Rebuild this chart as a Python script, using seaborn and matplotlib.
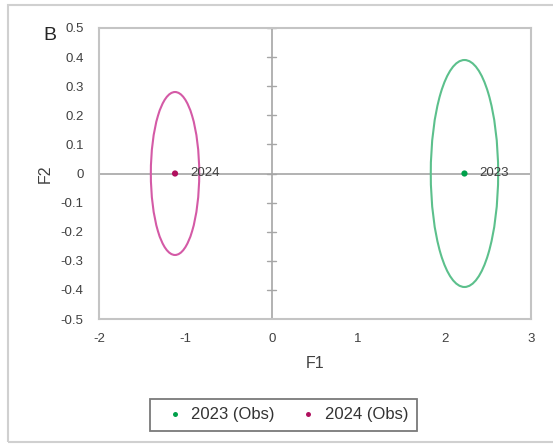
import numpy as np
import pandas as pd
import matplotlib
matplotlib.use("Agg")
import matplotlib.pyplot as plt
from matplotlib.patches import Ellipse, Rectangle
import seaborn as sns

# Data
years = ["2023", "2024"]
series_names = ["2023 (Obs)", "2024 (Obs)"]
f1_values = [2.23, -1.12]
f2_values = [0.0, 0.0]
ellipse_f1_radius = [0.39, 0.28]
ellipse_f2_radius = [0.39, 0.28]
x_ticks = [-2, -1, 0, 1, 2, 3]
y_ticks = [0.5, 0.4, 0.3, 0.2, 0.1, 0, -0.1, -0.2, -0.3, -0.4, -0.5]

point_colors = ["#00a04a", "#b0105e"]
ellipse_colors = ["#5cc08c", "#d45aa6"]

sns.set_theme(style="white")
plt.rcParams["font.family"] = ["Liberation Sans", "DejaVu Sans"]
plt.rcParams["axes.unicode_minus"] = False

fig = plt.figure(figsize=(5.53, 4.46), dpi=100)
ax = fig.add_axes([99 / 553, 1 - 319 / 446, 432 / 553, 291 / 446])

df = pd.DataFrame({"F1": f1_values, "F2": f2_values, "Series": series_names})

# zero lines
ax.axhline(0, color="#a6a6a6", lw=1.2, zorder=1)
ax.axvline(0, color="#a6a6a6", lw=1.2, zorder=1)
# tick marks on the vertical zero axis
for yt in y_ticks:
    ax.plot([-0.05, 0.05], [yt, yt], color="#a6a6a6", lw=1.0, zorder=1)

for i in range(len(years)):
    e = Ellipse((f1_values[i], f2_values[i]), 2 * ellipse_f1_radius[i],
                2 * ellipse_f2_radius[i], fill=False,
                edgecolor=ellipse_colors[i], lw=1.5, zorder=2)
    ax.add_patch(e)

sns.scatterplot(data=df, x="F1", y="F2", hue="Series",
                palette=point_colors, s=20, edgecolor="none", ax=ax, zorder=3,
                legend=True)

for i in range(len(years)):
    ax.annotate(years[i], (f1_values[i], f2_values[i]), xytext=(11, 0),
                textcoords="offset points", va="center", ha="left",
                fontsize=9.5, color="#404040", zorder=4)

ax.set_xlim(-2, 3)
ax.set_ylim(-0.5, 0.5)
ax.set_xticks(x_ticks)
ax.set_yticks(y_ticks)
ax.set_yticklabels([("%g" % v) for v in y_ticks])
ax.tick_params(axis="both", length=0, labelsize=9.5, labelcolor="#404040")
ax.tick_params(axis="y", pad=11)
ax.tick_params(axis="x", pad=10)
for sp in ax.spines.values():
    sp.set_color("#c4c4c4")
    sp.set_linewidth(1.5)

ax.set_xlabel("F1", fontsize=11.5, color="#404040", labelpad=8)
ax.set_ylabel("F2", fontsize=11.5, color="#404040", labelpad=6)

fig.text(50 / 553, 1 - 36 / 446, "B", fontsize=14, color="#262626",
         ha="center", va="center")

handles, labels = ax.get_legend_handles_labels()
ax.legend_.remove()
leg = fig.legend(handles, labels, loc="center", ncol=2,
                 bbox_to_anchor=(283 / 553, 1 - 415 / 446), fontsize=12,
                 frameon=True, fancybox=False, handletextpad=0.0,
                 columnspacing=1.0, markerscale=0.8, borderpad=0.5)
leg.get_frame().set_edgecolor("#595959")
leg.get_frame().set_linewidth(1.3)
for t in leg.get_texts():
    t.set_color("#333333")

fig.patches.append(Rectangle((8 / 553, 1 - 442 / 446), 600 / 553, 437 / 446,
                             transform=fig.transFigure, fill=False,
                             edgecolor="#d0d0d0", lw=1.5))

fig.savefig("out.png", dpi=100)
